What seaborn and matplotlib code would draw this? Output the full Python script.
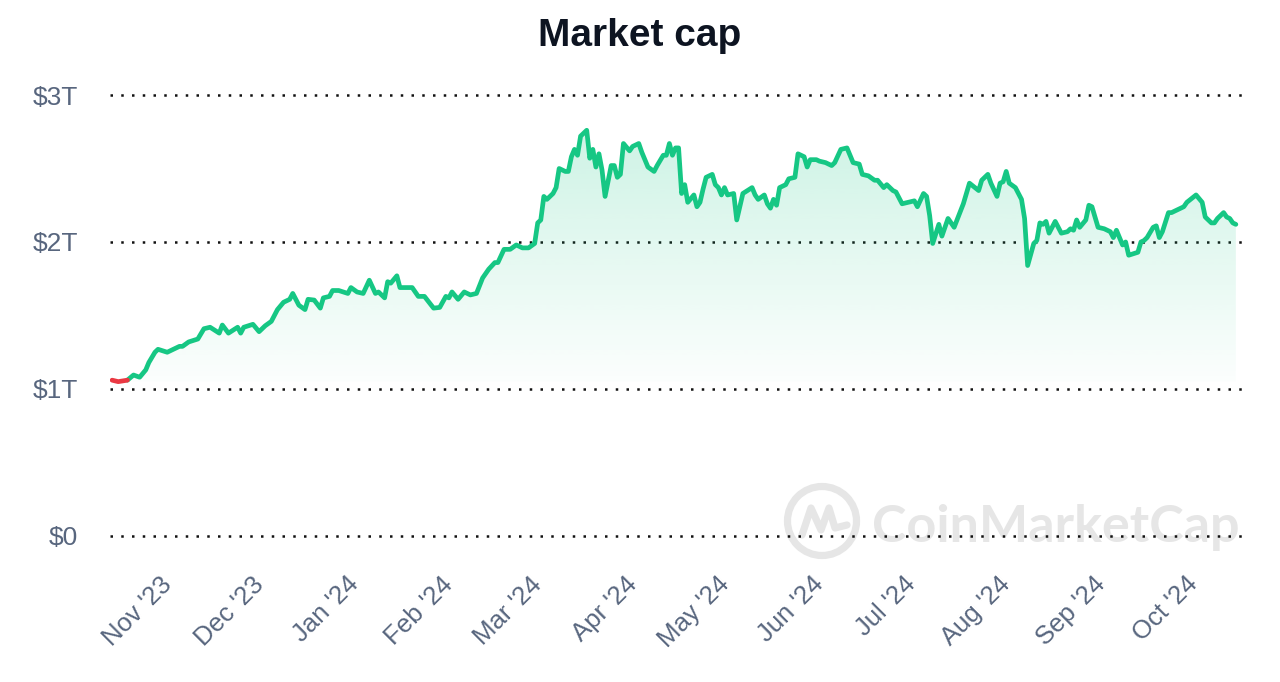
import numpy as np
import pandas as pd
import matplotlib
matplotlib.use("Agg")
import matplotlib.pyplot as plt
import matplotlib.dates as mdates
import seaborn as sns
from matplotlib.patches import Circle
from matplotlib.lines import Line2D
from matplotlib.colors import to_rgb

# ---------------- data ----------------
dates = [
    "2023-10-11", "2023-10-13", "2023-10-16", "2023-10-18", "2023-10-20", "2023-10-22", "2023-10-23", "2023-10-25", "2023-10-26", "2023-10-29",
    "2023-11-02", "2023-11-03", "2023-11-05", "2023-11-08", "2023-11-10", "2023-11-12", "2023-11-15", "2023-11-16", "2023-11-18", "2023-11-21", "2023-11-22", "2023-11-23", "2023-11-26", "2023-11-28", "2023-11-30",
    "2023-12-02", "2023-12-04", "2023-12-06", "2023-12-08", "2023-12-09", "2023-12-11", "2023-12-13", "2023-12-14", "2023-12-16", "2023-12-18", "2023-12-19", "2023-12-21", "2023-12-22", "2023-12-24", "2023-12-27", "2023-12-28", "2023-12-30",
    "2024-01-01", "2024-01-03", "2024-01-05", "2024-01-06", "2024-01-08", "2024-01-09", "2024-01-10", "2024-01-12", "2024-01-13", "2024-01-17", "2024-01-19", "2024-01-21", "2024-01-24", "2024-01-26", "2024-01-28", "2024-01-29", "2024-01-30",
    "2024-02-01", "2024-02-03", "2024-02-05", "2024-02-07", "2024-02-09", "2024-02-11", "2024-02-13", "2024-02-14", "2024-02-16", "2024-02-18", "2024-02-20", "2024-02-22", "2024-02-24", "2024-02-26", "2024-02-27", "2024-02-28", "2024-02-29",
    "2024-03-01", "2024-03-03", "2024-03-04", "2024-03-05", "2024-03-07", "2024-03-08", "2024-03-09", "2024-03-10", "2024-03-11", "2024-03-12", "2024-03-14", "2024-03-15", "2024-03-16", "2024-03-17", "2024-03-18", "2024-03-19", "2024-03-20", "2024-03-22", "2024-03-23", "2024-03-24", "2024-03-25", "2024-03-26", "2024-03-28", "2024-03-29", "2024-03-31",
    "2024-04-01", "2024-04-03", "2024-04-05", "2024-04-06", "2024-04-08", "2024-04-09", "2024-04-10", "2024-04-11", "2024-04-12", "2024-04-13", "2024-04-14", "2024-04-15", "2024-04-16", "2024-04-18", "2024-04-19", "2024-04-20", "2024-04-21", "2024-04-22", "2024-04-24", "2024-04-25", "2024-04-26", "2024-04-27", "2024-04-28", "2024-04-29",
    "2024-05-01", "2024-05-02", "2024-05-04", "2024-05-07", "2024-05-08", "2024-05-09", "2024-05-11", "2024-05-12", "2024-05-13", "2024-05-14", "2024-05-15", "2024-05-16", "2024-05-18", "2024-05-19", "2024-05-21", "2024-05-22", "2024-05-24", "2024-05-25", "2024-05-26", "2024-05-28", "2024-05-29", "2024-05-31",
    "2024-06-02", "2024-06-03", "2024-06-05", "2024-06-07", "2024-06-09", "2024-06-11", "2024-06-12", "2024-06-14", "2024-06-16", "2024-06-17", "2024-06-19", "2024-06-20", "2024-06-22", "2024-06-23", "2024-06-25", "2024-06-27", "2024-06-29", "2024-06-30",
    "2024-07-02", "2024-07-03", "2024-07-04", "2024-07-05", "2024-07-07", "2024-07-08", "2024-07-10", "2024-07-12", "2024-07-15", "2024-07-17", "2024-07-20", "2024-07-21", "2024-07-23", "2024-07-24", "2024-07-26", "2024-07-27", "2024-07-28", "2024-07-29", "2024-07-30",
    "2024-08-01", "2024-08-03", "2024-08-04", "2024-08-05", "2024-08-07", "2024-08-08", "2024-08-09", "2024-08-10", "2024-08-11", "2024-08-12", "2024-08-14", "2024-08-16", "2024-08-18", "2024-08-19", "2024-08-20", "2024-08-21", "2024-08-22", "2024-08-24", "2024-08-25", "2024-08-26", "2024-08-28", "2024-08-30",
    "2024-09-01", "2024-09-02", "2024-09-03", "2024-09-05", "2024-09-06", "2024-09-07", "2024-09-10", "2024-09-11", "2024-09-12", "2024-09-13", "2024-09-15", "2024-09-16", "2024-09-17", "2024-09-18", "2024-09-20", "2024-09-21", "2024-09-24", "2024-09-25", "2024-09-26", "2024-09-29",
    "2024-10-01", "2024-10-02", "2024-10-04", "2024-10-05", "2024-10-06", "2024-10-08", "2024-10-09", "2024-10-10", "2024-10-11", "2024-10-12",
]

market_cap_trillions = [
    1.06, 1.05, 1.06, 1.095, 1.08, 1.13, 1.18, 1.25, 1.27, 1.25,
    1.29, 1.29, 1.32, 1.34, 1.41, 1.42, 1.38, 1.435, 1.38, 1.42, 1.38, 1.42, 1.44, 1.39, 1.43,
    1.46, 1.54, 1.59, 1.61, 1.65, 1.57, 1.54, 1.61, 1.605, 1.55, 1.62, 1.63, 1.67, 1.67, 1.65, 1.69, 1.66,
    1.65, 1.74, 1.65, 1.66, 1.62, 1.73, 1.72, 1.77, 1.69, 1.69, 1.63, 1.63, 1.55, 1.555, 1.63, 1.62, 1.66,
    1.61, 1.66, 1.64, 1.65, 1.755, 1.815, 1.86, 1.86, 1.95, 1.95, 1.98, 1.96, 1.96, 1.99, 2.13, 2.15, 2.31,
    2.29, 2.33, 2.37, 2.50, 2.48, 2.48, 2.58, 2.63, 2.59, 2.72, 2.76, 2.57, 2.63, 2.51, 2.60, 2.49, 2.31, 2.52, 2.52, 2.44, 2.46, 2.67, 2.62, 2.65, 2.67,
    2.61, 2.51, 2.48, 2.52, 2.59, 2.59, 2.67, 2.59, 2.64, 2.64, 2.33, 2.39, 2.27, 2.32, 2.24, 2.27, 2.36, 2.44, 2.46, 2.39, 2.37, 2.32, 2.37, 2.32,
    2.33, 2.15, 2.33, 2.37, 2.32, 2.29, 2.32, 2.26, 2.23, 2.29, 2.25, 2.37, 2.39, 2.43, 2.44, 2.60, 2.58, 2.51, 2.56, 2.56, 2.55, 2.54,
    2.52, 2.54, 2.63, 2.64, 2.54, 2.53, 2.46, 2.45, 2.42, 2.42, 2.37, 2.39, 2.35, 2.34, 2.26, 2.27, 2.28, 2.24,
    2.33, 2.31, 2.18, 1.99, 2.12, 2.04, 2.16, 2.10, 2.26, 2.40, 2.35, 2.42, 2.46, 2.40, 2.31, 2.40, 2.41, 2.48, 2.40,
    2.37, 2.29, 2.16, 1.84, 1.99, 2.01, 2.13, 2.12, 2.14, 2.06, 2.14, 2.06, 2.07, 2.09, 2.08, 2.15, 2.10, 2.15, 2.25, 2.24, 2.10, 2.09,
    2.07, 2.03, 2.08, 1.98, 2.00, 1.91, 1.93, 2.00, 2.01, 2.03, 2.10, 2.11, 2.03, 2.07, 2.20, 2.20, 2.23, 2.24, 2.27, 2.32,
    2.27, 2.17, 2.13, 2.13, 2.16, 2.20, 2.17, 2.16, 2.13, 2.12,
]

y_ticks = [0, 1, 2, 3]
y_tick_labels = ["$0", "$1T", "$2T", "$3T"]

x_tick_dates = ["2023-11-01", "2023-12-01", "2024-01-01", "2024-02-01", "2024-03-01", "2024-04-01",
                "2024-05-01", "2024-06-01", "2024-07-01", "2024-08-01", "2024-09-01", "2024-10-01"]
x_tick_labels = ["Nov '23", "Dec '23", "Jan '24", "Feb '24", "Mar '24", "Apr '24",
                 "May '24", "Jun '24", "Jul '24", "Aug '24", "Sep '24", "Oct '24"]

title = "Market cap"
watermark = "CoinMarketCap"

GREEN = "#16c784"
RED = "#ea3943"
LABEL = "#58667e"
TITLE = "#0d1421"

# ---------------- style ----------------
sns.set_style("white")
plt.rcParams["font.family"] = ["Liberation Sans", "DejaVu Sans"]

df = pd.DataFrame({"date": pd.to_datetime(dates), "cap": market_cap_trillions})

fig = plt.figure(figsize=(12.8, 6.82), dpi=100)
ax = fig.add_axes([0.0859, 0.2141, 0.8844, 0.6466])
ax.set_facecolor("white")

# ---------------- gradient fill under the line ----------------
xnum = mdates.date2num(df["date"])
vmin, vmax = df["cap"].min(), df["cap"].max()
poly = ax.fill_between(df["date"], df["cap"], vmin, color="none", lw=0)
grad = np.zeros((256, 1, 4))
grad[..., :3] = to_rgb(GREEN)
grad[..., 3] = np.linspace(0.015, 0.21, 256)[:, None]
im = ax.imshow(grad, extent=[xnum[0], xnum[-1], vmin, vmax], origin="lower",
               aspect="auto", zorder=1, interpolation="bilinear")
im.set_clip_path(poly.get_paths()[0], transform=ax.transData)

# ---------------- lines ----------------
start = df["cap"].iloc[0]
first_up = int(np.argmax(df["cap"].values > start))
red_part = df.iloc[: first_up]
green_part = df.iloc[first_up - 1:]
line_kw = dict(lw=3.4, solid_joinstyle="round", solid_capstyle="round", zorder=3)
sns.lineplot(data=green_part, x="date", y="cap", color=GREEN, ax=ax, **line_kw)
sns.lineplot(data=red_part, x="date", y="cap", color=RED, ax=ax, **line_kw)

# ---------------- axes ----------------
ax.set_xlim(xnum[0] - 0.7, xnum[-1] + 2.0)
ax.set_ylim(0, 3)
ax.set_yticks(y_ticks, labels=y_tick_labels)
ax.set_xticks(pd.to_datetime(x_tick_dates), labels=x_tick_labels, rotation=45, ha="right")
ax.set_xlabel("")
ax.set_ylabel("")
for s in ax.spines.values():
    s.set_visible(False)
ax.set_axisbelow(True)
ax.yaxis.grid(True, linestyle=(0, (1, 3.3)), color="#111111", lw=1.8)
ax.xaxis.grid(False)
for gl in ax.get_ygridlines():
    gl.set_clip_on(False)
ax.tick_params(axis="y", length=0, pad=23, labelsize=19, labelcolor=LABEL)
ax.tick_params(axis="x", length=0, pad=26, labelsize=18.5, labelcolor=LABEL)

# ---------------- watermark ----------------
wm_col = "#e6e6e6"
ring = Circle((8.22, 1.61), 0.345, transform=fig.dpi_scale_trans, fill=False,
              lw=5.2, ec=wm_col, zorder=0.2, clip_on=False)
ax.add_artist(ring)
mx = np.array([-0.20, -0.11, -0.01, 0.07, 0.13, 0.25]) + 8.22
my = np.array([-0.14, 0.13, -0.09, 0.13, -0.07, -0.04]) + 1.61
ax.add_line(Line2D(mx, my, transform=fig.dpi_scale_trans, color=wm_col, lw=5.2,
                   solid_joinstyle="round", solid_capstyle="round", zorder=0.2, clip_on=False))
ax.text(8.72, 1.40, watermark, transform=fig.dpi_scale_trans, fontsize=37.5,
        family=["Lato", "DejaVu Sans"], weight="bold", color=wm_col,
        ha="left", va="baseline", zorder=0.2, clip_on=False)

# ---------------- title ----------------
fig.text(0.5, 0.947, title, ha="center", va="center", fontsize=28,
         weight="bold", color=TITLE)

fig.savefig("out.png", dpi=100, facecolor="white")
